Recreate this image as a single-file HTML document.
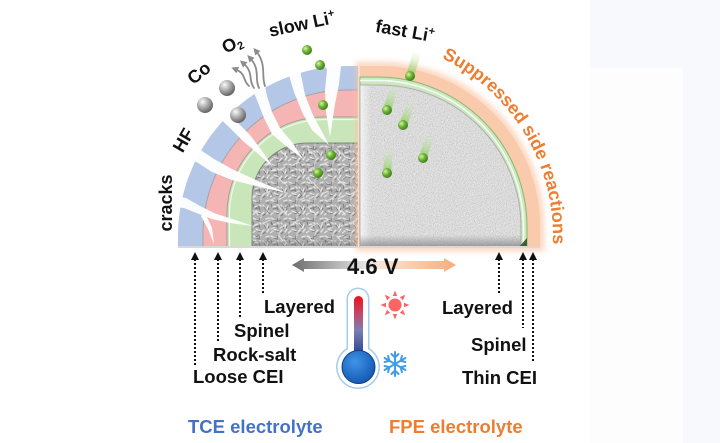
<!DOCTYPE html>
<html><head><meta charset="utf-8"><style>
html,body{margin:0;padding:0;background:#fff;}
svg{display:block;}
</style></head><body>
<svg width="720" height="443" viewBox="0 0 720 443" xmlns="http://www.w3.org/2000/svg" font-family="'Liberation Sans', Arial, sans-serif" font-weight="bold">
<defs>
  <pattern id="tex" width="18" height="18" patternUnits="userSpaceOnUse">
    <rect width="18" height="18" fill="#b0b0b0"/>
    <path d="M1 2l4 2M9 1l-2 4M14 3l3-1M2 9l4-1M11 7l3 4M16 8l-1 4M4 13l4 2M12 14l-3 3M15 16l2-3M0 17l3-2M7 6l2 2" stroke="#e6e6e6" stroke-width="1.3" stroke-linecap="round"/>
    <path d="M4 4l3 1M8 2l-1 4M15 5l2 0M3 11l4-1M12 9l2 3M6 15l3 1M13 16l-2 2M1 6l1 3M7 9l1 3M17 10l-1 2" stroke="#777" stroke-width="0.9" stroke-linecap="round"/>
  </pattern>
  <pattern id="tex2" width="29" height="29" patternUnits="userSpaceOnUse">
    <path d="M3 20l6-3M18 4l4 5M24 22l-5 3M10 26l4-2M26 12l-3-4" stroke="#ececec" stroke-width="1.2" stroke-linecap="round" opacity="0.8"/>
    <path d="M6 8l3 3M20 17l-4 1M12 22l-2-3M27 3l-3 2" stroke="#666" stroke-width="0.8" stroke-linecap="round" opacity="0.7"/>
  </pattern>
  <filter id="speck" x="355" y="75" width="175" height="180" filterUnits="userSpaceOnUse">
    <feTurbulence type="fractalNoise" baseFrequency="1.1" numOctaves="2" seed="5"/>
    <feColorMatrix type="matrix" values="0.33 0.33 0.33 0 0  0.33 0.33 0.33 0 0  0.33 0.33 0.33 0 0  0 0 0 0 1"/>
    <feComponentTransfer>
      <feFuncR type="linear" slope="1.8" intercept="-0.45"/>
      <feFuncG type="linear" slope="1.8" intercept="-0.45"/>
      <feFuncB type="linear" slope="1.8" intercept="-0.45"/>
      <feFuncA type="linear" slope="0" intercept="0.4"/>
    </feComponentTransfer>
  </filter>
  <filter id="blur3" x="-20%" y="-20%" width="140%" height="140%"><feGaussianBlur stdDeviation="3"/></filter>
  <radialGradient id="gBall" cx="0.35" cy="0.35" r="0.7">
    <stop offset="0" stop-color="#d8f5a8"/><stop offset="0.45" stop-color="#72b83a"/><stop offset="1" stop-color="#3a7a18"/>
  </radialGradient>
  <radialGradient id="sBall" cx="0.35" cy="0.3" r="0.75">
    <stop offset="0" stop-color="#fafafa"/><stop offset="0.5" stop-color="#a8a8a8"/><stop offset="1" stop-color="#5c5c5c"/>
  </radialGradient>
  <linearGradient id="trail" x1="0" y1="1" x2="0" y2="0">
    <stop offset="0" stop-color="#8fcc66" stop-opacity="0.95"/><stop offset="1" stop-color="#c8ebb0" stop-opacity="0"/>
  </linearGradient>
  <linearGradient id="arrowG" x1="292" y1="0" x2="456" y2="0" gradientUnits="userSpaceOnUse">
    <stop offset="0" stop-color="#6c6c6c"/><stop offset="0.45" stop-color="#e6e6e6"/><stop offset="0.55" stop-color="#fbe3d2"/><stop offset="1" stop-color="#f4ad7c"/>
  </linearGradient>
  <linearGradient id="tubeG" x1="0" y1="0" x2="0" y2="1">
    <stop offset="0" stop-color="#e8141c"/><stop offset="0.3" stop-color="#c24a6a"/><stop offset="0.55" stop-color="#7c80b0"/><stop offset="1" stop-color="#1c3a8a"/>
  </linearGradient>
  <radialGradient id="bulbG" cx="0.4" cy="0.35" r="0.7">
    <stop offset="0" stop-color="#3f95e6"/><stop offset="1" stop-color="#1256b0"/>
  </radialGradient>
  <linearGradient id="bevL" x1="0" y1="0" x2="1" y2="0">
    <stop offset="0" stop-color="#ffffff" stop-opacity="0.7"/><stop offset="1" stop-color="#ffffff" stop-opacity="0"/>
  </linearGradient>
  <linearGradient id="bevB" x1="0" y1="0" x2="0" y2="1">
    <stop offset="0" stop-color="#7a7a7a" stop-opacity="0"/><stop offset="1" stop-color="#7a7a7a" stop-opacity="0.7"/>
  </linearGradient>
  <marker id="ah" markerWidth="7" markerHeight="7" refX="3" refY="3.5" orient="auto" markerUnits="userSpaceOnUse">
    <path d="M0,0 L7,3.5 L0,7 Z" fill="#8c8c8c"/>
  </marker>
  <clipPath id="rg"><path d="M360,247 L360,85 L379,85 A142,142 0 0 1 521,227 L521,247 Z"/></clipPath>
  <path id="arcp" d="M441.8,58 A198,198 0 0 1 552.7,246.4" fill="none"/>
</defs>

<!-- background tint on right -->
<rect x="590" y="0" width="130" height="443" fill="#f7f9fc"/>
<rect x="590" y="68" width="93" height="375" fill="#fdfdfd"/>

<!-- LEFT QUARTER -->
<path d="M178,247 L178,236 A170,170 0 0 1 348,66 L358,66 L358,247 Z" fill="#b4c7e7"/>
<path d="M203,247 L203,234 A144,144 0 0 1 347,90 L358,90 L358,247 Z" fill="#f6b5b5"/>
<path d="M227,247 L227,214 A97,97 0 0 1 324,117 L358,117 L358,247 Z" fill="#c9e6bb"/>
<path d="M252,247 L252,198 A55,55 0 0 1 307,143 L358,143 L358,247 Z" fill="url(#tex)"/>
<path d="M252,247 L252,198 A55,55 0 0 1 307,143 L358,143 L358,247 Z" fill="url(#tex2)"/>
<path d="M203,247 L203,234 A144,144 0 0 1 347,90 L358,90" fill="none" stroke="#8f8f8f" stroke-opacity="0.6" stroke-width="1"/>
<path d="M227,247 L227,214 A97,97 0 0 1 324,117 L358,117" fill="none" stroke="#7f7f7f" stroke-opacity="0.6" stroke-width="1"/>
<path d="M229.5,247 L229.5,214 A94.5,94.5 0 0 1 324,119.5 L358,119.5" fill="none" stroke="#ffffff" stroke-opacity="0.7" stroke-width="1.2"/>
<path d="M252,247 L252,198 A55,55 0 0 1 307,143 L358,143" fill="none" stroke="#6a6a6a" stroke-opacity="0.7" stroke-width="1"/>
<rect x="252" y="241" width="106" height="6" fill="#777" opacity="0.3"/>
<rect x="178" y="246" width="180" height="2" fill="#d8d8d8"/>

<!-- cracks (white) -->
<g fill="#ffffff" opacity="0.97">
  <path d="M166,194 L186,198 L200,206 L214,213 L232,219 L253,226 L230,223 L212,219 L199,214 L184,208 L166,206 Z"/>
  <path d="M205,213 L212,228 L214,244 L208,229 L201,216 Z"/>
  <path d="M178,137 L196,147 L214,159 L232,169 L258,181 L287,193 L256,186 L232,180 L212,172 L195,161 L178,150 Z"/>
  <path d="M212,103 L226,107 L236,121 L250,135 L262,151 L273,167 L256,152 L244,142 L230,128 L215,114 Z"/>
  <path d="M249,81 L264,81 L267,96 L272,112 L280,128 L292,142 L303,159 L286,146 L272,134 L264,118 L257,100 Z"/>
  <path d="M281,55 L299,57 L301,75 L305,95 L313,115 L329,145 L312,130 L302,112 L294,92 L288,72 Z"/>
  <path d="M321,47 L349,51 L341,66 L339,84 L335,104 L330,137 L326,112 L325,90 L327,70 Z"/>
</g>

<!-- Co balls -->
<circle cx="227" cy="88" r="8" fill="url(#sBall)"/>
<circle cx="205" cy="105" r="8" fill="url(#sBall)"/>
<circle cx="238" cy="115" r="8" fill="url(#sBall)"/>

<!-- O2 wavy arrows -->
<g fill="none" stroke="#8c8c8c" stroke-width="1.8" stroke-linecap="round">
  <path d="M249,86 C242,80 247,74 235,69" marker-end="url(#ah)"/>
  <path d="M254,88 C248,80 254,72 243,63" marker-end="url(#ah)"/>
  <path d="M259,88 C254,78 261,70 250,58" marker-end="url(#ah)"/>
  <path d="M265,86 C261,76 267,64 256,51" marker-end="url(#ah)"/>
</g>

<!-- left green balls -->
<g fill="url(#gBall)">
  <circle cx="307" cy="50" r="5"/>
  <circle cx="320" cy="65" r="5"/>
  <circle cx="323" cy="105" r="5"/>
  <circle cx="331" cy="155" r="5"/>
  <circle cx="318" cy="173" r="5"/>
</g>

<!-- RIGHT QUARTER -->
<path d="M360,247 L360,66 L380,66 A160,160 0 0 1 540,226 L540,247 Z" fill="none" stroke="#f9c4a2" stroke-width="8" opacity="0.7" filter="url(#blur3)"/>
<path d="M360,247 L360,66 L380,66 A160,160 0 0 1 540,226 L540,247 Z" fill="#f9caab"/>
<path d="M360,247 L360,77 L377,77 A150,150 0 0 1 527,227 L527,247 Z" fill="#cce8bf" stroke="#86b870" stroke-width="1"/>
<path d="M360,80.5 L377,80.5 A146.5,146.5 0 0 1 523.5,227 L523.5,247" fill="none" stroke="#ffffff" stroke-width="1.5" opacity="0.85"/>
<g clip-path="url(#rg)">
  <rect x="355" y="75" width="175" height="180" fill="#f6f6f6"/>
  <rect x="355" y="75" width="175" height="180" filter="url(#speck)"/>
  <rect x="360" y="85" width="11" height="162" fill="url(#bevL)"/>
  <rect x="360" y="235" width="165" height="12" fill="url(#bevB)"/>
</g>
<path d="M360,247 L360,85 L379,85 A142,142 0 0 1 521,227 L521,247" fill="none" stroke="#9a9a9a" stroke-width="1" opacity="0.7"/>
<path d="M519,247 L527,238 L527,247 Z" fill="#3e6034"/>
<rect x="360" y="246" width="180" height="2" fill="#d8d8d8"/>

<!-- right green balls with trails -->
<g>
  <g transform="translate(410,76) rotate(17)"><rect x="-4" y="-26" width="8" height="26" rx="4" fill="url(#trail)"/></g>
  <g transform="translate(387,110) rotate(18)"><rect x="-4" y="-26" width="8" height="26" rx="4" fill="url(#trail)"/></g>
  <g transform="translate(403,125) rotate(21)"><rect x="-4" y="-26" width="8" height="26" rx="4" fill="url(#trail)"/></g>
  <g transform="translate(423,158) rotate(17)"><rect x="-4" y="-26" width="8" height="26" rx="4" fill="url(#trail)"/></g>
  <g transform="translate(387,173) rotate(5)"><rect x="-4" y="-26" width="8" height="26" rx="4" fill="url(#trail)"/></g>
  <g fill="url(#gBall)">
    <circle cx="410" cy="76" r="5"/>
    <circle cx="387" cy="110" r="5"/>
    <circle cx="403" cy="125" r="5"/>
    <circle cx="423" cy="158" r="5"/>
    <circle cx="387" cy="173" r="5"/>
  </g>
</g>

<!-- top labels -->
<g fill="#111" font-size="18">
  <text transform="translate(166,203) rotate(-90)" text-anchor="middle" y="6">cracks</text>
  <text transform="translate(183,140) rotate(-60)" text-anchor="middle" y="6.5">HF</text>
  <text transform="translate(199,73) rotate(-40)" text-anchor="middle" y="6">Co</text>
  <text transform="translate(232,44) rotate(-27)" text-anchor="middle" y="6">O<tspan font-size="11" dy="3">2</tspan></text>
  <text transform="translate(302,24) rotate(-12)" text-anchor="middle" y="6">slow Li<tspan font-size="11" dy="-7">+</tspan></text>
  <text transform="translate(405,31) rotate(10)" text-anchor="middle" y="6">fast Li<tspan font-size="11" dy="-7">+</tspan></text>
</g>
<text font-size="18" fill="#ed7d31"><textPath href="#arcp">Suppressed side reactions</textPath></text>

<!-- dotted arrows -->
<g stroke="#111" stroke-width="2" stroke-dasharray="2 2">
  <line x1="195" y1="259" x2="195" y2="365"/>
  <line x1="218" y1="259" x2="218" y2="341"/>
  <line x1="240" y1="259" x2="240" y2="317"/>
  <line x1="263" y1="259" x2="263" y2="295"/>
  <line x1="499" y1="259" x2="499" y2="293"/>
  <line x1="523" y1="259" x2="523" y2="328"/>
  <line x1="533" y1="259" x2="533" y2="363"/>
</g>
<g fill="#111">
  <path d="M195,252 L199,260 L191,260 Z"/>
  <path d="M218,252 L222,260 L214,260 Z"/>
  <path d="M240,252 L244,260 L236,260 Z"/>
  <path d="M263,252 L267,260 L259,260 Z"/>
  <path d="M499,252 L503,260 L495,260 Z"/>
  <path d="M523,252 L527,260 L519,260 Z"/>
  <path d="M533,252 L537,260 L529,260 Z"/>
</g>

<!-- double arrow 4.6 V -->
<path d="M292,265 L304,258 L304,261 L444,261 L444,258 L456,265 L444,272 L444,269 L304,269 L304,272 Z" fill="url(#arrowG)"/>
<text x="347" y="274" font-size="22" fill="#111">4.6 V</text>

<!-- layer labels -->
<g fill="#111" font-size="18.5">
  <text x="264" y="313">Layered</text>
  <text x="234" y="337">Spinel</text>
  <text x="213" y="361">Rock-salt</text>
  <text x="193" y="383">Loose CEI</text>
  <text x="442" y="314">Layered</text>
  <text x="471" y="351">Spinel</text>
  <text x="462" y="384">Thin CEI</text>
</g>

<!-- thermometer -->
<rect x="346.5" y="287.5" width="23" height="75" rx="11.5" fill="#a6cbec"/>
<circle cx="358" cy="367" r="22" fill="#a6cbec"/>
<rect x="348" y="289" width="20" height="72" rx="10" fill="#ffffff"/>
<circle cx="358" cy="367" r="20.5" fill="#ffffff"/>
<rect x="354" y="296" width="9" height="62" rx="4.5" fill="url(#tubeG)"/>
<circle cx="358.5" cy="367" r="16.5" fill="url(#bulbG)" stroke="#0f3f8c" stroke-width="1"/>

<!-- sun -->
<g transform="translate(395,305)" fill="#ff6464">
  <circle r="6.5"/>
  <path d="M-2.2,-9 L2.2,-9 L0,-14.5 Z"/>
  <path d="M-2.2,-9 L2.2,-9 L0,-14.5 Z" transform="rotate(45)"/>
  <path d="M-2.2,-9 L2.2,-9 L0,-14.5 Z" transform="rotate(90)"/>
  <path d="M-2.2,-9 L2.2,-9 L0,-14.5 Z" transform="rotate(135)"/>
  <path d="M-2.2,-9 L2.2,-9 L0,-14.5 Z" transform="rotate(180)"/>
  <path d="M-2.2,-9 L2.2,-9 L0,-14.5 Z" transform="rotate(225)"/>
  <path d="M-2.2,-9 L2.2,-9 L0,-14.5 Z" transform="rotate(270)"/>
  <path d="M-2.2,-9 L2.2,-9 L0,-14.5 Z" transform="rotate(315)"/>
</g>

<!-- snowflake -->
<g transform="translate(395,364)" stroke="#3d9de6" stroke-width="2" stroke-linecap="round" fill="none">
  <path d="M0,0 L0,-12 M-3.5,-10 L0,-6.5 L3.5,-10"/>
  <path d="M0,0 L0,-12 M-3.5,-10 L0,-6.5 L3.5,-10" transform="rotate(60)"/>
  <path d="M0,0 L0,-12 M-3.5,-10 L0,-6.5 L3.5,-10" transform="rotate(120)"/>
  <path d="M0,0 L0,-12 M-3.5,-10 L0,-6.5 L3.5,-10" transform="rotate(180)"/>
  <path d="M0,0 L0,-12 M-3.5,-10 L0,-6.5 L3.5,-10" transform="rotate(240)"/>
  <path d="M0,0 L0,-12 M-3.5,-10 L0,-6.5 L3.5,-10" transform="rotate(300)"/>
</g>

<!-- electrolyte labels -->
<text x="188" y="433" font-size="18.5" fill="#4472c4">TCE electrolyte</text>
<text x="389" y="433" font-size="18.5" fill="#ed7d31">FPE electrolyte</text>
</svg>
</body></html>
